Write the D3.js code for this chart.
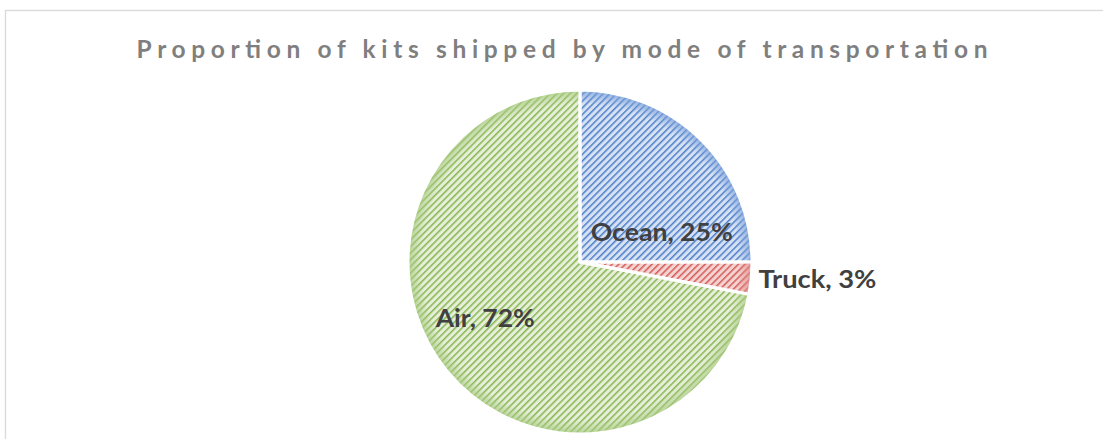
<!DOCTYPE html>
<html><head><meta charset="utf-8">
<script src="https://cdn.jsdelivr.net/npm/d3@7"></script>
<style>body{margin:0;background:#fff}svg{display:block}</style>
</head><body>
<script>
const categories = ["Ocean", "Truck", "Air"];
const values = [25, 3, 72];
const labels = ["Ocean, 25%", "Truck, 3%", "Air, 72%"];
const title = "Proportion of kits shipped by mode of transportation";

const W = 1103, H = 439;
const stripe = ["#4d7fc8", "#d45a56", "#88b54e"];
const bgc = ["#d6e2f4", "#f4d4d3", "#e6efda"];
const rim = ["#7ea3dc", "#e08c8a", "#a9cb82"];

const svg = d3.select("body").append("svg").attr("width", W).attr("height", H);
svg.append("rect").attr("width", W).attr("height", H).attr("fill", "#fff");
svg.append("rect").attr("x", 5.5).attr("y", 10.5).attr("width", 1300).attr("height", 600)
  .attr("fill", "none").attr("stroke", "#d9d9d9").attr("stroke-width", 1.3);

svg.append("text").attr("x", 562).attr("y", 58).attr("text-anchor", "middle")
  .attr("font-family", "Lato, 'Open Sans', sans-serif").attr("font-weight", "bold")
  .attr("font-size", 24.5).attr("fill", "#7f7f7f")
  .attr("textLength", 851).attr("lengthAdjust", "spacing").text(title);

const cx = 580, cy = 262, R = 172;
const defs = svg.append("defs");
categories.forEach((c, i) => {
  const p = defs.append("pattern").attr("id", "pat" + i).attr("patternUnits", "userSpaceOnUse")
    .attr("width", 4.7).attr("height", 10).attr("patternTransform", "rotate(45)");
  p.append("rect").attr("width", 4.7).attr("height", 10).attr("fill", bgc[i]);
  p.append("rect").attr("width", 1.5).attr("height", 10).attr("fill", stripe[i]);
  const g = defs.append("radialGradient").attr("id", "rim" + i)
    .attr("gradientUnits", "userSpaceOnUse").attr("cx", 0).attr("cy", 0).attr("r", R);
  g.append("stop").attr("offset", 0.92).attr("stop-color", rim[i]).attr("stop-opacity", 0);
  g.append("stop").attr("offset", 1).attr("stop-color", rim[i]).attr("stop-opacity", 0.8);
});

const pie = d3.pie().sort(null).value(d => d)(values);
const arc = d3.arc().innerRadius(0).outerRadius(R);
const g = svg.append("g").attr("transform", `translate(${cx},${cy})`);
g.selectAll("path.f").data(pie).join("path").attr("class", "f")
  .attr("d", arc).attr("fill", (d, i) => `url(#pat${i})`);
g.selectAll("path.r").data(pie).join("path").attr("class", "r")
  .attr("d", arc).attr("fill", (d, i) => `url(#rim${i})`)
  .attr("stroke", "#fff").attr("stroke-width", 3).attr("stroke-linejoin", "round");

// label positions: polar (angle from top clockwise, radius) per label
const labelAngle = [70, 94, 239.5];
const labelRad = [87, 238, 110];
const labelLen = [142, 118, 99];
svg.selectAll("text.lbl").data(labels).join("text").attr("class", "lbl")
  .attr("x", (d, i) => cx + labelRad[i] * Math.sin(labelAngle[i] * Math.PI / 180))
  .attr("y", (d, i) => cy - labelRad[i] * Math.cos(labelAngle[i] * Math.PI / 180))
  .attr("dy", "0.36em").attr("text-anchor", "middle")
  .attr("font-family", "Lato, 'Open Sans', sans-serif").attr("font-weight", "bold")
  .attr("font-size", 25).attr("fill", "#404040")
  .attr("textLength", (d, i) => labelLen[i]).attr("lengthAdjust", "spacingAndGlyphs")
  .text(d => d);
</script>
</body></html>
